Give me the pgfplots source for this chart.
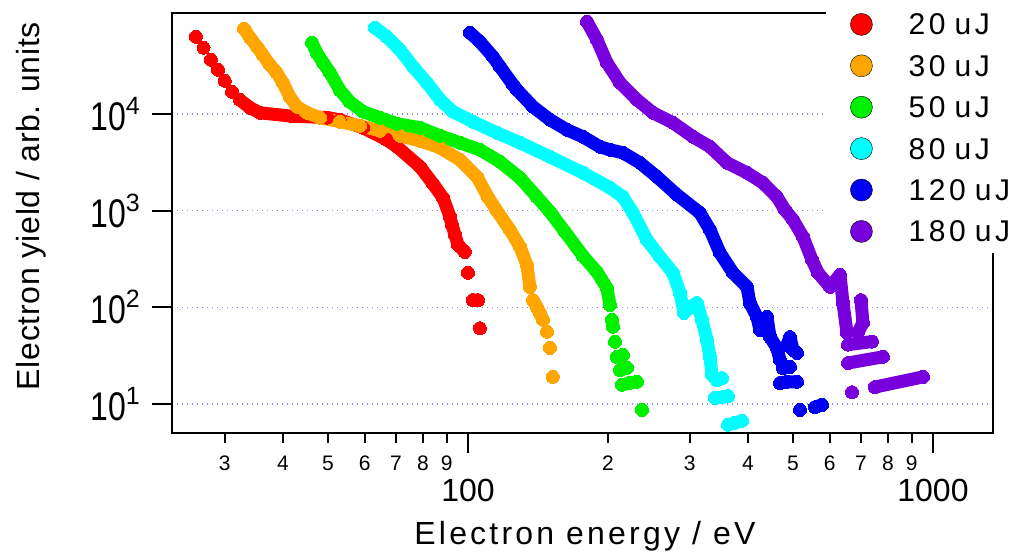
\documentclass[border=0pt]{standalone}
\usepackage{fontspec}
\setmainfont{Liberation Sans}
\usepackage{graphicx}
\usepackage{pgfplots}
\pgfplotsset{compat=1.18}
\definecolor{cRed}{RGB}{255,0,0}
\definecolor{cOrange}{RGB}{255,165,0}
\definecolor{cGreen}{RGB}{0,240,0}
\definecolor{cCyan}{RGB}{0,255,255}
\definecolor{cBlue}{RGB}{0,0,240}
\definecolor{cPurple}{RGB}{120,0,220}
\definecolor{cGrid}{RGB}{140,140,235}
\newcommand\tp[1]{\scalebox{0.8}[1]{\fontsize{40}{40}\selectfont 10}\raisebox{16pt}{\fontsize{25}{25}\selectfont #1}}
\pgfplotsset{
  dots/.style={forget plot, color=#1, line width=13pt, line cap=round, line join=round,
    mark=*, mark size=6.5pt, mark options={line width=0pt, draw=#1, fill=#1}, unbounded coords=jump},
}
\begin{document}
\begin{tikzpicture}
\useasboundingbox (-172pt,-119pt) rectangle (850pt,433pt);
\begin{axis}[
  at={(0pt,0pt)}, anchor=south west,
  scale only axis, width=821pt, height=420pt,
  xmode=log, ymode=log,
  xmin=23.1, xmax=1346, ymin=5.02, ymax=111100,
  axis line style={line width=2.5pt},
  tick align=outside, xtick pos=bottom, ytick pos=left,
  xminorticks=false, yminorticks=false,
  major tick length=20pt,
  every tick/.style={black, line width=2pt},
  xtick={100,1000}, xticklabels={100,1000},
  xticklabel style={font=\fontsize{32}{32}\selectfont, anchor=base, inner sep=0pt, yshift=-49pt},
  extra x ticks={30,40,50,60,70,80,90,200,300,400,500,600,700,800,900},
  extra x tick labels={3,4,5,6,7,8,9,2,3,4,5,6,7,8,9},
  extra x tick style={major tick length=10pt,
    xticklabel style={font=\fontsize{21}{21}\selectfont, anchor=base, inner sep=0pt, yshift=21pt}},
  ytick={10,100,1000,10000}, yticklabels={\tp{1},\tp{2},\tp{3},\tp{4}},
  yticklabel style={anchor=east, inner sep=0pt, xshift=-12pt},
  ymajorgrids, major grid style={cGrid, line width=1.3pt, dash pattern=on 1.3pt off 3.7pt},
  xlabel={Electron energy / eV},
  ylabel={Electron yield / arb. units},
  xlabel style={at={(axis description cs:0.503,-0.245)}, anchor=center,
    font=\fontsize{32}{32}\selectfont\addfontfeatures{LetterSpace=10}},
  ylabel style={at={(axis description cs:-0.1717,0.54)}, anchor=center,
    font=\fontsize{32}{32}\selectfont\addfontfeatures{LetterSpace=2}},
  legend style={at={(axis description cs:0.7966,1.0238)}, anchor=north west,
    fill=white, draw=none, inner xsep=24pt, inner ysep=10pt,
    row sep=19pt, column sep=36pt,
    font=\fontsize{30}{30}\selectfont\addfontfeatures{LetterSpace=12},
    nodes={inner sep=0pt, text height=21pt, text depth=0pt, anchor=base west}},
  legend image code/.code={\fill[#1] (11pt,10.5pt) circle (11pt);},
]
\addlegendimage{fill=cRed}\addlegendentry{20\hspace{0.3em}uJ}
\addlegendimage{fill=cOrange}\addlegendentry{30\hspace{0.3em}uJ}
\addlegendimage{fill=cGreen}\addlegendentry{50\hspace{0.3em}uJ}
\addlegendimage{fill=cCyan}\addlegendentry{80\hspace{0.3em}uJ}
\addlegendimage{fill=cBlue}\addlegendentry{120\hspace{0.3em}uJ}
\addlegendimage{fill=cPurple}\addlegendentry{180\hspace{0.3em}uJ}

% 20 uJ
\addplot[dots=cRed] table {
x y
26.0 63100
nan nan
27.0 48600
nan nan
28.0 36500
nan nan
29.0 28700
nan nan
30.0 22100
nan nan
31.1 17000
nan nan
32.3 14060
34.0 11620
35.7 10300
42.0 9500
49.8 9200
53.0 8730
59.5 7220
66.9 5420
70.4 4590
78.9 2850
84.1 1900
88.4 1360
91.5 865
92.4 714
93.8 563
95.2 443
98.5 375
nan nan
100.0 228
nan nan
102.5 119
105.1 119
nan nan
106.1 61
};

% 30 uJ
\addplot[dots=cOrange] table {
x y
33.0 76400
34.0 61700
35.2 49700
36.2 41100
37.5 32400
38.8 26800
40.0 21100
41.4 15100
42.9 11900
45.1 10300
48.1 9160
53.0 8330
58.6 7570
64.7 6720
71.4 5960
78.9 5290
87.1 4480
96.1 3360
104.6 2240
110.4 1390
115.4 998
123.1 634
129.4 423
133.9 275
135.9 163
nan nan
138.0 119
140.7 101
142.8 87.7
145.0 74.3
nan nan
147.9 55.8
nan nan
150.1 38.1
nan nan
152.3 19.1
};

% 50 uJ
\addplot[dots=cGreen] table {
x y
46.2 54700
47.3 43100
48.8 34000
50.5 26800
53.0 17800
55.7 13400
59.5 10600
64.7 9160
70.4 7940
78.9 7220
87.1 5960
96.1 5050
106.1 4270
117.2 3210
129.4 2190
140.7 1390
150.1 975
161.7 605
176.7 341
189.4 233
199.0 159
202.0 106
nan nan
204.0 74.3
205.0 62.9
nan nan
207.1 44.0
nan nan
209.1 30.7
215.4 32.2
nan nan
212.3 22.5
219.8 23.7
nan nan
214.4 15.8
223.1 16.6
230.9 17.0
nan nan
236.7 8.7
};

% 80 uJ
\addplot[dots=cCyan] table {
x y
63.1 78200
66.9 63100
71.4 46300
76.2 30900
81.6 21100
87.1 14060
92.8 10600
102.5 8330
115.4 6400
129.4 5050
150.1 3610
176.7 2470
202.0 1730
215.4 1390
226.4 951
242.6 500
258.8 333
276.0 228
285.8 141
291.5 87.7
300.2 101
310.8 111
318.6 74.3
326.6 46.1
331.5 30.7
334.8 20.0
343.1 17.7
351.8 18.6
nan nan
339.8 11.6
351.8 11.8
362.4 12.1
nan nan
362.4 6.1
375.2 6.4
388.4 6.7
};

% 120 uJ
\addplot[dots=cBlue] table {
x y
101.0 69400
106.1 56000
113.2 39200
117.2 30900
125.0 20100
127.5 17800
138.0 11900
150.1 8730
163.3 6880
176.7 5820
192.2 4590
202.0 4270
215.4 3980
234.4 3130
255.0 2240
281.6 1460
315.4 951
331.5 634
348.3 366
371.5 228
398.1 163
404.1 111
418.3 79.8
424.6 58.5
430.9 62.9
439.5 79.8
446.2 49.4
461.8 38.0
468.8 28.6
nan nan
485.3 40.8
492.6 49.4
500.0 36.3
510.0 33.8
nan nan
475.8 23.6
492.6 24.2
nan nan
468.8 16.5
485.3 17.0
510.0 17.0
nan nan
517.6 8.7
nan nan
557.4 9.3
577.1 9.8
};

% 180 uJ
\addplot[dots=cPurple] table {
x y
180.3 90300
189.4 58800
199.0 34000
212.3 21100
230.9 14060
249.9 10300
276.0 8130
304.7 5820
331.5 4590
360.6 3130
398.1 2470
430.9 1940
461.8 1390
480.6 1020
500.0 805
525.4 537
549.4 310
565.9 228
600.6 163
631.0 217
640.5 111
653.3 54.5
nan nan
700.0 119
707.0 69.2
689.7 54.8
nan nan
656.5 41.2
739.3 44.3
nan nan
656.5 26.6
780.6 30.8
nan nan
669.6 13.3
nan nan
750.3 15.0
951.7 19.1
};
\end{axis}
\end{tikzpicture}
\end{document}
